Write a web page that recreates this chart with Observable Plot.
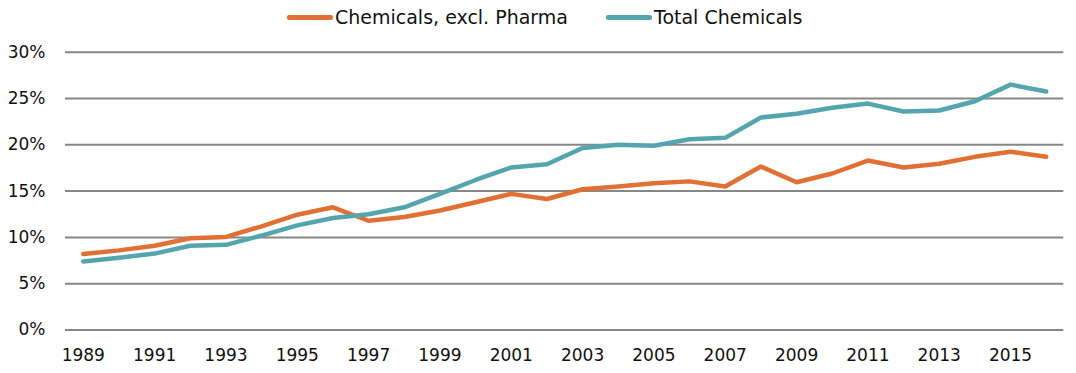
<!DOCTYPE html>
<html>
<head>
<meta charset="utf-8">
<script src="https://cdn.jsdelivr.net/npm/d3@7"></script>
<script src="https://cdn.jsdelivr.net/npm/@observablehq/plot@0.6"></script>
<style>
  body { margin: 0; background: #fff; font-family: "DejaVu Sans", sans-serif; }
  #legend { position: relative; height: 34px; width: 1076px; }
  .item { position: absolute; top: 3px; display: flex; align-items: center; font-size: 19px; color: #111; height: 28px; }
  .sw { width: 46px; height: 5px; margin-right: 2px; border-radius: 2px; }
  svg { display: block; }
</style>
</head>
<body>
<div id="legend"></div>
<div id="chart"></div>
<script>
const years = [1989,1990,1991,1992,1993,1994,1995,1996,1997,1998,1999,2000,2001,2002,2003,2004,2005,2006,2007,2008,2009,2010,2011,2012,2013,2014,2015,2016];
const exclPharma = [8.2,8.6,9.1,9.9,10.05,11.2,12.45,13.25,11.8,12.2,12.9,13.8,14.7,14.15,15.2,15.5,15.85,16.05,15.5,17.65,15.95,16.9,18.3,17.55,17.95,18.7,19.25,18.7];
const totalChem = [7.4,7.8,8.25,9.1,9.2,10.2,11.3,12.1,12.5,13.25,14.7,16.2,17.55,17.9,19.65,20.0,19.9,20.6,20.75,22.95,23.35,24.0,24.45,23.6,23.7,24.7,26.5,25.75];
const seriesNames = ["Chemicals, excl. Pharma", "Total Chemicals"];
const seriesColors = ["#E07034", "#55A5AE"];
const yTicks = [0,5,10,15,20,25,30];
const xTicks = [1989,1991,1993,1995,1997,1999,2001,2003,2005,2007,2009,2011,2013,2015];

const data = [];
years.forEach((yr, i) => {
  data.push({year: yr, value: exclPharma[i], series: seriesNames[0]});
  data.push({year: yr, value: totalChem[i], series: seriesNames[1]});
});

// legend
const legend = document.getElementById("legend");
const legendLeft = [287, 606];
seriesNames.forEach((name, i) => {
  const it = document.createElement("div");
  it.className = "item";
  it.style.left = legendLeft[i] + "px";
  const sw = document.createElement("div");
  sw.className = "sw";
  sw.style.background = seriesColors[i];
  const tx = document.createElement("span");
  tx.textContent = name;
  it.appendChild(sw);
  it.appendChild(tx);
  legend.appendChild(it);
});

const chart = Plot.plot({
  width: 1076,
  height: 339,
  marginLeft: 65,
  marginRight: 12.7,
  marginTop: 17.7,
  marginBottom: 43.5,
  style: {fontFamily: "DejaVu Sans, sans-serif", fontSize: "17px", color: "#111", background: "#fff"},
  x: {domain: [1989, 2016], insetLeft: 17.8, insetRight: 17.6},
  y: {domain: [0, 30]},
  color: {domain: seriesNames, range: seriesColors},
  marks: [
    Plot.ruleY(yTicks, {stroke: "#878787", strokeWidth: 2}),
    Plot.axisY({ticks: yTicks, tickSize: 0, tickPadding: 20, tickFormat: d => d + "%", label: null, fontSize: 17}),
    Plot.axisX({ticks: xTicks, tickSize: 0, tickPadding: 19, tickFormat: d => String(d), label: null, fontSize: 17}),
    Plot.line(data, {x: "year", y: "value", z: "series", stroke: "series", strokeWidth: 4.5, strokeLinejoin: "round", strokeLinecap: "round"})
  ]
});
document.getElementById("chart").appendChild(chart);
</script>
</body>
</html>
